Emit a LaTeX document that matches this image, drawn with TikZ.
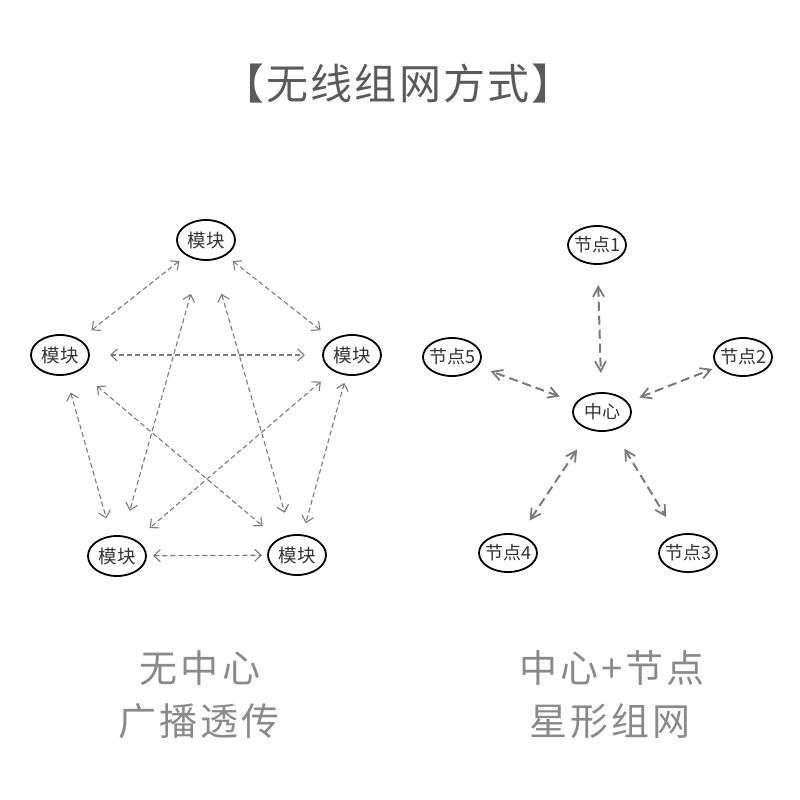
\documentclass[tikz,border=0pt]{standalone}
\usepackage{fontspec}
\setmainfont{Noto Sans CJK SC}
\newfontfamily\capfont[LetterSpace=8]{Noto Sans CJK SC}
\newfontfamily\titlefont[LetterSpace=5]{Noto Sans CJK SC}
\usetikzlibrary{arrows.meta,calc,shapes.geometric}
\definecolor{titlegray}{HTML}{5A5A5A}
\definecolor{capgray}{HTML}{8A8A8A}
\definecolor{linegray}{HTML}{7A7A7A}
\definecolor{txtgray}{HTML}{333333}
\begin{document}
\begin{tikzpicture}[x=1pt,y=-1pt,
  mod/.style={ellipse,draw=black,line width=1.8pt,minimum width=58pt,minimum height=40pt,inner sep=0pt,
    font=\fontsize{18.5}{18.5}\selectfont,text=txtgray},
  nd/.style={mod,minimum height=38pt,inner xsep=-3.5pt,font=\fontsize{18}{18}\selectfont},
  link/.style={draw=linegray,line width=1.1pt,dash pattern=on 5pt off 3pt,
    {Straight Barb[length=6.5pt,width=12pt,line width=1.1pt]}-{Straight Barb[length=6.5pt,width=12pt,line width=1.1pt]}},
  starlink/.style={draw=linegray,line width=2pt,dash pattern=on 9pt off 5pt,
    {Straight Barb[length=10pt,width=11pt,line width=1.8pt]}-{Straight Barb[length=10pt,width=11pt,line width=1.8pt]}},
  captext/.style={text=capgray,font=\capfont\fontsize{38}{38}\selectfont,inner sep=0pt},
]
\useasboundingbox (0,0) rectangle (800,800);
\fill[white] (0,0) rectangle (800,800);

\node[text=titlegray,font=\titlefont\fontsize{42}{42}\selectfont,inner sep=0pt] (title) at (398,84) {【无线组网方式】};

% left: mesh
\node[mod] (mt) at (206,240) {模块};
\node[mod] (ml) at (60,355) {模块};
\node[mod] (mr) at (352,355) {模块};
\node[mod] (mbl) at (117,556) {模块};
\node[mod] (mbr) at (297,555) {模块};

\draw[link] ($(mt)!34pt!(ml)$) -- ($(ml)!40pt!(mt)$);
\draw[link] ($(mt)!34pt!(mr)$) -- ($(mr)!40pt!(mt)$);
\draw[link] ($(ml)!50pt!(mr)$) -- ($(mr)!47pt!(ml)$);
\draw[link] ($(mt)!56pt!(mbl)$) -- ($(mbl)!47pt!(mt)$);
\draw[link] ($(mt)!56pt!(mbr)$) -- ($(mbr)!44pt!(mt)$);
\draw[link] ($(ml)!39pt!(mbl)$) -- ($(mbl)!39pt!(ml)$);
\draw[link] ($(ml)!48pt!(mbr)$) -- ($(mbr)!45pt!(ml)$);
\draw[link] ($(mr)!41pt!(mbl)$) -- ($(mbl)!43pt!(mr)$);
\draw[link] ($(mr)!29pt!(mbr)$) -- ($(mbr)!33pt!(mr)$);
\draw[link] ($(mbl)!36pt!(mbr)$) -- ($(mbr)!35pt!(mbl)$);

% right: star
\node[nd] (n1) at (597,245) {节点1};
\node[nd] (n5) at (452,357) {节点5};
\node[nd] (n2) at (743,357) {节点2};
\node[nd] (c) at (602,412) {中心};
\node[nd] (n4) at (508,553) {节点4};
\node[nd] (n3) at (688,553) {节点3};

\draw[starlink] ($(n1)!40pt!(c)$) -- ($(c)!39pt!(n1)$);
\draw[starlink] ($(c)!40pt!(n2)$) -- ($(n2)!33pt!(c)$);
\draw[starlink] ($(c)!45pt!(n5)$) -- ($(n5)!41pt!(c)$);
\draw[starlink] ($(c)!45pt!(n4)$) -- ($(n4)!39pt!(c)$);
\draw[starlink] ($(c)!43pt!(n3)$) -- ($(n3)!42pt!(c)$);

% captions
\node[captext] (l1) at (200,668) {无中心};
\node[captext] (l2) at (199,721) {广播透传};
\node[captext] (r1) at (612,668) {中心+节点};
\node[captext] (r2) at (610,721) {星形组网};
\end{tikzpicture}
\end{document}
